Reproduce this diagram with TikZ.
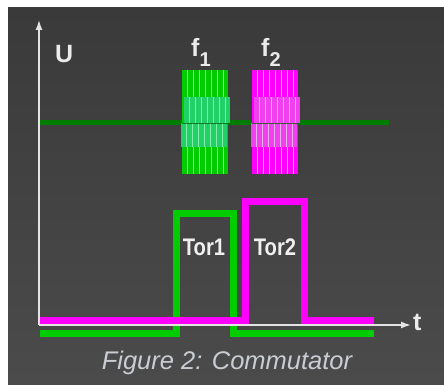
\documentclass[tikz,border=0pt]{standalone}
\usepackage{fontspec}
\setmainfont{Liberation Sans}
\usetikzlibrary{arrows.meta}
\definecolor{bgtop}{HTML}{3A3A3A}
\definecolor{bgbot}{HTML}{4B4B4B}
\definecolor{axisgray}{HTML}{E4E4E4}
\definecolor{carrier}{HTML}{007C00}
\definecolor{torgreen}{HTML}{00CC00}
\definecolor{tormagenta}{HTML}{FF00FF}
\definecolor{greenband}{HTML}{22D068}
\definecolor{greenstripe}{HTML}{80F0AA}
\definecolor{pinkband}{HTML}{F040F0}
\definecolor{pinkstripe}{HTML}{E8B0E8}
\definecolor{captiongray}{HTML}{C9CDD3}
\newcommand{\subidx}[1]{\raisebox{-10pt}{\fontsize{20}{20}\selectfont\bfseries #1}}
\tikzset{
  >=Latex,
  axis/.style={draw=axisgray,line width=1.6pt,-{Latex[length=10pt,width=7pt]}},
  carrierline/.style={draw=carrier,line width=5pt},
  crossline/.style={draw=carrier!70!black,line width=0.8pt,opacity=0.7},
  stripe/.style={line width=0.9pt},
  gatepulse/.style={line width=7pt},
  lbl/.style={text=white!92!black,inner sep=0pt,font=\fontsize{25}{28}\selectfont\bfseries},
  torlbl/.style={text=white!94!black,inner sep=0pt,xscale=0.84,font=\fontsize{24}{26}\selectfont\bfseries},
  caption/.style={text=captiongray,inner sep=0pt,font=\fontsize{25.5}{30}\selectfont\itshape}
}
\begin{document}
\begin{tikzpicture}[x=1pt,y=-1pt]
  \useasboundingbox (0,0) rectangle (444,385);
  \fill[white] (0,0) rectangle (444,385);
  \shade[top color=bgtop,bottom color=bgbot] (8,8) rectangle (444,385);

  \coordinate (origin) at (39,325);
  \coordinate (ytip) at (39,20);
  \coordinate (xtip) at (411,325);

  % carrier and the two bursts
  \draw[carrierline] (40,123) -- (389,123);
  \foreach \bx/\fc/\bc/\sc in {182/torgreen/greenband/greenstripe,252/tormagenta/pinkband/pinkstripe}{
    \fill[\fc] (\bx,70) rectangle ++(46,104);
    \fill[\bc] (\bx+2,97) rectangle ++(46,26);
    \fill[\bc] (\bx-1,123) rectangle ++(46,24);
    \foreach \s in {0,...,6}{
      \draw[stripe,\sc] (\bx+5+6*\s,70) -- ++(0,27);
      \draw[stripe,\sc] (\bx+7+6*\s,97) -- ++(0,26);
      \draw[stripe,\sc] (\bx+4+6*\s,123) -- ++(0,24);
      \draw[stripe,\sc] (\bx+5+6*\s,147) -- ++(0,27);
    }
    \draw[crossline] (\bx,123) -- ++(46,0);
  }

  % gate pulses
  \draw[gatepulse,torgreen] (40,333) -- (176,333) -- (176,213) -- (233,213) -- (233,333) -- (374,333);
  \draw[gatepulse,tormagenta] (40,320) -- (245,320) -- (245,201) -- (304,201) -- (304,320) -- (374,320);

  % axes
  \draw[axis] (origin) -- (ytip);
  \draw[axis] (origin) -- (xtip);

  \node[lbl,anchor=base west] (ulabel) at (55,63) {U};
  \node[lbl,anchor=base west] (tlabel) at (413,330) {t};
  \node[lbl,anchor=base west] (fone) at (191,57) {f\subidx{1}};
  \node[lbl,anchor=base west] (ftwo) at (261,57) {f\subidx{2}};
  \node[torlbl] (torone) at (204,247) {Tor1};
  \node[torlbl] (tortwo) at (275,247) {Tor2};
  \node[caption,anchor=base] (figcap) at (227,369) {Figure 2: Commutator};
\end{tikzpicture}
\end{document}
